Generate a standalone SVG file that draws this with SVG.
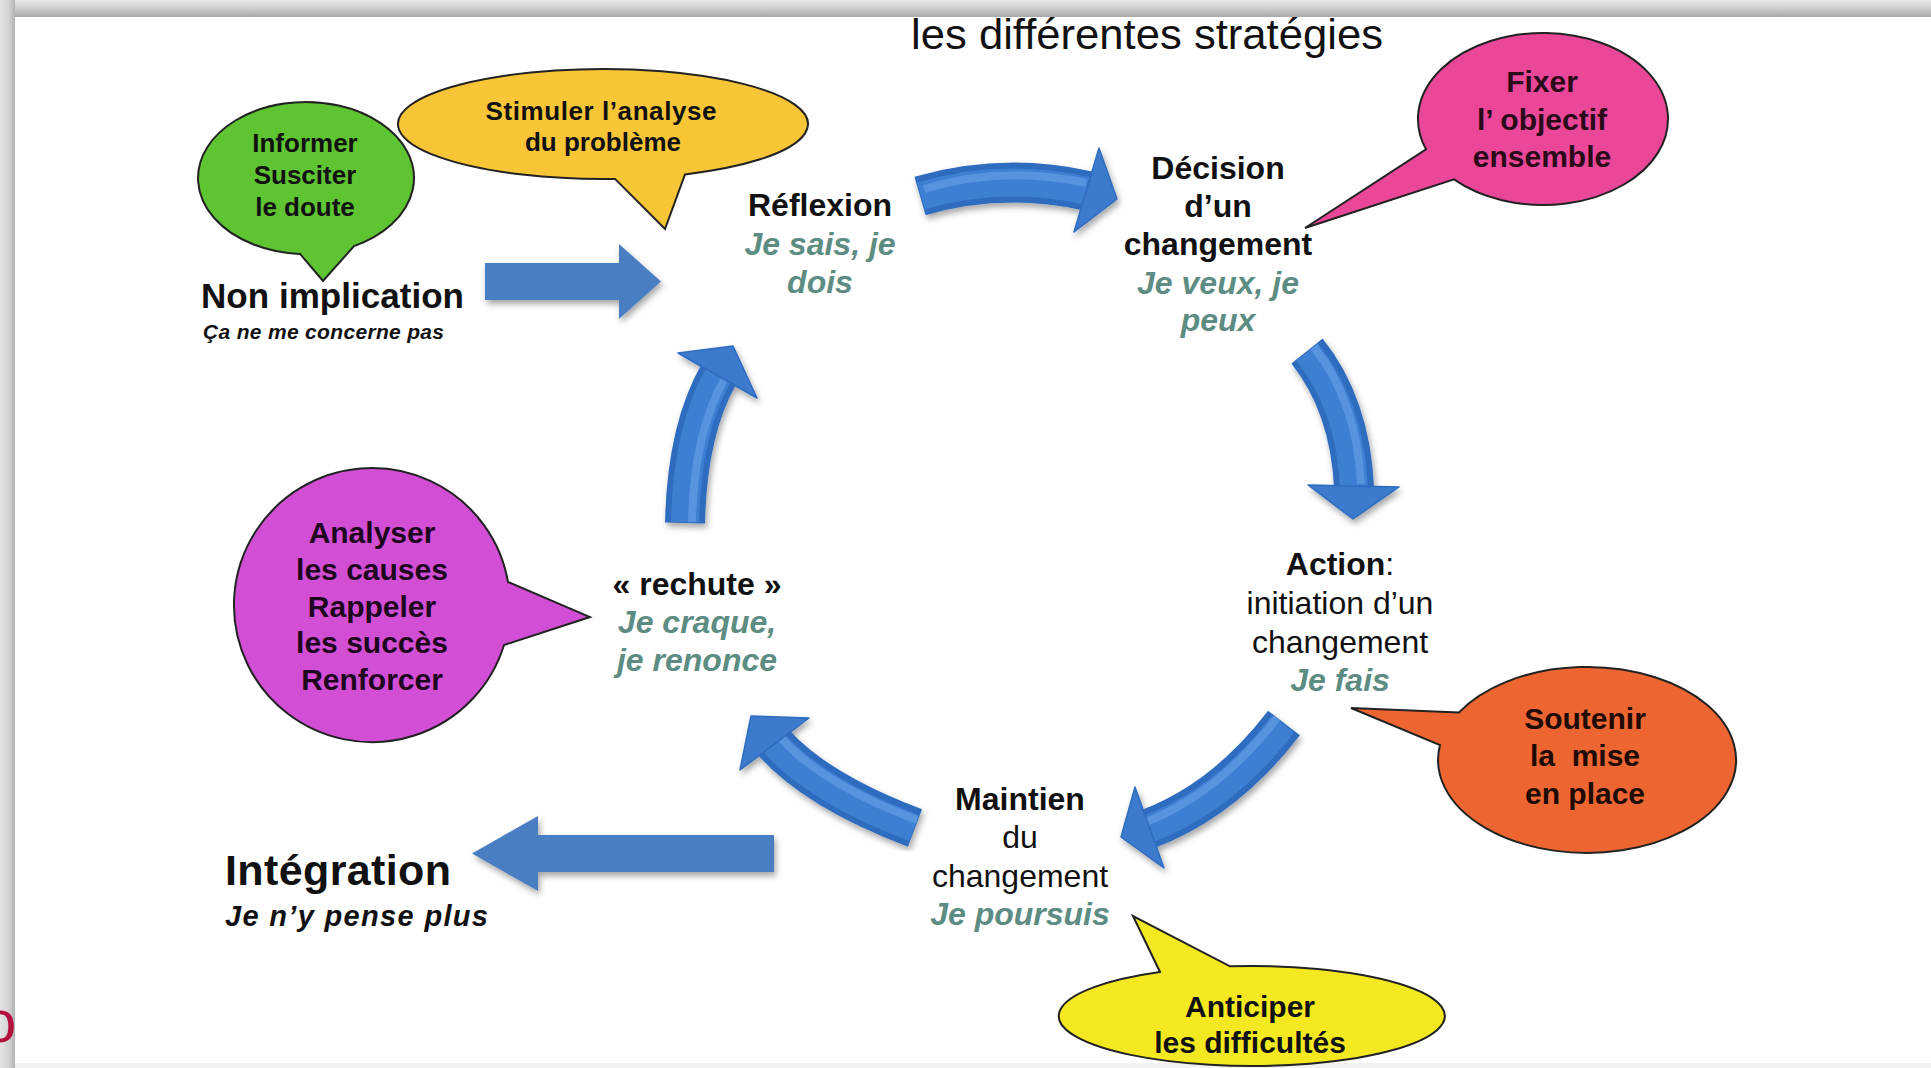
<svg xmlns="http://www.w3.org/2000/svg" width="1931" height="1068" viewBox="0 0 1931 1068">
  <defs>
    <style>
      .t { font-family: "Liberation Sans", Arial, sans-serif; fill: #111; }
      .c { text-anchor: middle; }
      .stage { font-size: 32px; }
      .b { font-weight: bold; }
      .r { font-weight: normal; }
      .say { font-style: italic; font-weight: bold; fill: #5d8c82; }
      .bubtxt { font-size: 30px; font-weight: bold; text-anchor: middle; }
      .bubble { stroke: #222; stroke-width: 2; }
      .flat { fill: #4a7ec2; }
      .cv-body { fill: none; stroke: #2f6cbf; stroke-width: 40; }
      .cv-mid { fill: none; stroke: #3d7fd3; stroke-width: 28; }
      .cv-hi { fill: none; stroke: #6ea6ea; stroke-width: 8; opacity: 0.55; }
      .cv-head { fill: #3a7acd; stroke: #2f6cbf; stroke-width: 1.5; stroke-linejoin: round; }
    </style>
    <filter id="shadow" x="-20%" y="-20%" width="140%" height="140%">
      <feDropShadow dx="2" dy="4" stdDeviation="3" flood-color="#000" flood-opacity="0.35"/>
    </filter>
    <linearGradient id="topEdge" x1="0" y1="0" x2="0" y2="1">
      <stop offset="0" stop-color="#e6e6e6"/>
      <stop offset="0.35" stop-color="#d6d6d6"/>
      <stop offset="1" stop-color="#a8a8a8"/>
    </linearGradient>
    <linearGradient id="leftEdge" x1="0" y1="0" x2="1" y2="0">
      <stop offset="0" stop-color="#e4e4e4"/>
      <stop offset="0.6" stop-color="#d2d2d2"/>
      <stop offset="1" stop-color="#b2b2b2"/>
    </linearGradient>
  </defs>

  <!-- slide background and frame -->
  <rect x="0" y="0" width="1931" height="1068" fill="#fff"/>
  <rect x="0" y="0" width="1931" height="17" fill="url(#topEdge)"/>
  <rect x="0" y="0" width="15" height="1068" fill="url(#leftEdge)"/>
  <rect x="15" y="1063" width="1916" height="5" fill="#f1f1f1"/>
  <text class="t" x="-17" y="1042" font-size="60" style="fill:#b4123e">o</text>

  <!-- title -->
  <text id="title" class="t" x="911" y="49" font-size="42" textLength="472" lengthAdjust="spacingAndGlyphs" style="font-family:'Liberation Sans Narrow','Liberation Sans',Arial,sans-serif">les différentes stratégies</text>

  <!-- connectors -->
  <g id="connectors">
    <g filter="url(#shadow)">
      <polygon class="flat" points="485,263 619,263 619,244 661,281.5 619,319 619,300 485,300"/>
      <polygon class="flat" points="774,835 538,835 538,816 472,853.5 538,891 538,872 774,872"/>
    </g>
    <g id="arc-reflexion-decision" filter="url(#shadow)">
      <path class="cv-body" d="M 920 196 Q 1003 172 1088 191"/>
      <path class="cv-mid" d="M 921 196 Q 1003 172 1088 191"/>
      <path class="cv-hi" d="M 924 189 Q 1003 165 1086 183"/>
      <polygon class="cv-head" points="1099,148 1117,199 1074,232"/>
    </g>
    <g id="arc-decision-action" filter="url(#shadow)">
      <path class="cv-body" d="M 1307 351 Q 1350 405 1354 487"/>
      <path class="cv-mid" d="M 1307 352 Q 1350 405 1354 487"/>
      <path class="cv-hi" d="M 1314 347 Q 1357 402 1361 484"/>
      <polygon class="cv-head" points="1308,485 1353,519 1399,487"/>
    </g>
    <g id="arc-action-maintien" filter="url(#shadow)">
      <path class="cv-body" d="M 1284 723 Q 1225 800 1148 829"/>
      <path class="cv-mid" d="M 1283 724 Q 1225 800 1148 829"/>
      <path class="cv-hi" d="M 1277 718 Q 1219 793 1146 822"/>
      <polygon class="cv-head" points="1135,787 1121,837 1164,868"/>
    </g>
    <g id="arc-maintien-rechute" filter="url(#shadow)">
      <path class="cv-body" d="M 915 828 Q 817 791 774 743"/>
      <path class="cv-mid" d="M 914 828 Q 817 791 774 743"/>
      <path class="cv-hi" d="M 917 820 Q 822 784 781 738"/>
      <polygon class="cv-head" points="809,718 751,716 740,770"/>
    </g>
    <g id="arc-rechute-reflexion" filter="url(#shadow)">
      <path class="cv-body" d="M 685 523 Q 687 430 719 374"/>
      <path class="cv-mid" d="M 685 522 Q 687 430 719 374"/>
      <path class="cv-hi" d="M 692 522 Q 694 432 725 378"/>
      <polygon class="cv-head" points="678,353 733,346 757,398"/>
    </g>
  </g>

  <!-- speech bubbles -->
  <g id="bubble-informer">
    <path class="bubble" fill="#5fc432" d="M 300 253.9 L 323 281 L 354 246.1 A 108 76 0 1 0 300 253.9 Z"/>
    <text class="t bubtxt" x="305" y="152" style="font-size:26px">Informer</text>
    <text class="t bubtxt" x="305" y="184" style="font-size:26px">Susciter</text>
    <text class="t bubtxt" x="305" y="216" style="font-size:26px">le doute</text>
  </g>
  <g id="bubble-stimuler">
    <path class="bubble" fill="#f7c536" d="M 615 178.9 L 665 229 L 685 174.4 A 205 55 0 1 0 615 178.9 Z"/>
    <text class="t bubtxt" x="601" y="120" textLength="231" style="font-size:26px">Stimuler l’analyse</text>
    <text class="t bubtxt" x="603" y="151" style="font-size:26px">du problème</text>
  </g>
  <g id="bubble-fixer">
    <path class="bubble" fill="#ea4799" d="M 1426 149.3 L 1305 228 L 1454 179.4 A 125 86 0 1 0 1426 149.3 Z"/>
    <text class="t bubtxt" x="1542" y="92" style="fill:#2a0a18">Fixer</text>
    <text class="t bubtxt" x="1542" y="130" style="fill:#2a0a18" xml:space="preserve">l’ objectif</text>
    <text class="t bubtxt" x="1542" y="167" style="fill:#2a0a18">ensemble</text>
  </g>
  <g id="bubble-soutenir">
    <path class="bubble" fill="#ed6632" d="M 1459 712.4 L 1351 708 L 1440 745 A 149 93 0 1 0 1459 712.4 Z"/>
    <text class="t bubtxt" x="1585" y="729" style="fill:#200a04">Soutenir</text>
    <text class="t bubtxt" x="1585" y="766" style="fill:#200a04" xml:space="preserve">la  mise</text>
    <text class="t bubtxt" x="1585" y="804" style="fill:#200a04">en place</text>
  </g>
  <g id="bubble-analyser">
    <path class="bubble" fill="#d24fd5" d="M 508 582 L 590 617 L 504 645 A 138 137 0 1 1 508 582 Z"/>
    <text class="t bubtxt" x="372" y="543" style="fill:#1e061e">Analyser</text>
    <text class="t bubtxt" x="372" y="580" style="fill:#1e061e">les causes</text>
    <text class="t bubtxt" x="372" y="617" style="fill:#1e061e">Rappeler</text>
    <text class="t bubtxt" x="372" y="653" style="fill:#1e061e">les succès</text>
    <text class="t bubtxt" x="372" y="690" style="fill:#1e061e">Renforcer</text>
  </g>
  <g id="bubble-anticiper">
    <path class="bubble" fill="#f4e921" d="M 1160 972 L 1133 916 L 1230 966.3 A 193 50 0 1 1 1160 972 Z"/>
    <text class="t bubtxt" x="1250" y="1017">Anticiper</text>
    <text class="t bubtxt" x="1250" y="1053">les difficultés</text>
  </g>

  <!-- stages -->
  <g id="stage-non-implication">
    <text class="t b" x="201" y="308" font-size="35" textLength="263">Non implication</text>
    <text class="t b" x="203" y="339" font-size="21" font-style="italic" textLength="241">Ça ne me concerne pas</text>
  </g>
  <g id="stage-reflexion">
    <text class="t c stage b" x="820" y="216">Réflexion</text>
    <text class="t c stage say" x="820" y="255">Je sais, je</text>
    <text class="t c stage say" x="820" y="293">dois</text>
  </g>
  <g id="stage-decision">
    <text class="t c stage b" x="1218" y="179">Décision</text>
    <text class="t c stage b" x="1218" y="217">d’un</text>
    <text class="t c stage b" x="1218" y="255">changement</text>
    <text class="t c stage say" x="1218" y="294">Je veux, je</text>
    <text class="t c stage say" x="1218" y="331">peux</text>
  </g>
  <g id="stage-action">
    <text class="t c stage" x="1340" y="575"><tspan class="b">Action</tspan><tspan class="r">:</tspan></text>
    <text class="t c stage r" x="1340" y="614">initiation d’un</text>
    <text class="t c stage r" x="1340" y="653">changement</text>
    <text class="t c stage say" x="1340" y="691">Je fais</text>
  </g>
  <g id="stage-maintien">
    <text class="t c stage b" x="1020" y="810">Maintien</text>
    <text class="t c stage r" x="1020" y="848">du</text>
    <text class="t c stage r" x="1020" y="887">changement</text>
    <text class="t c stage say" x="1020" y="925">Je poursuis</text>
  </g>
  <g id="stage-rechute">
    <text class="t c stage b" x="697" y="595">« rechute »</text>
    <text class="t c stage say" x="697" y="633">Je craque,</text>
    <text class="t c stage say" x="697" y="671">je renonce</text>
  </g>
  <g id="stage-integration">
    <text class="t b" x="225" y="885" font-size="43" textLength="226">Intégration</text>
    <text class="t b" x="225" y="926" font-size="29" font-style="italic" textLength="263">Je n’y pense plus</text>
  </g>
</svg>
